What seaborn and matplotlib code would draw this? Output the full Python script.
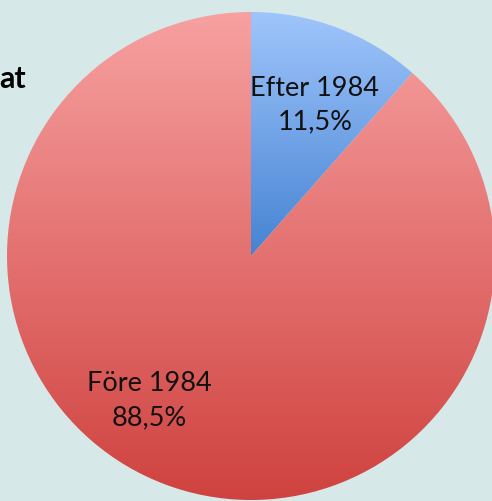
import numpy as np
import matplotlib
matplotlib.use("Agg")
import matplotlib.pyplot as plt
import seaborn as sns

# data
categories = ["Efter 1984", "Före 1984"]
shares = [11.5, 88.5]
share_labels = ["11,5%", "88,5%"]

# gradient colours (top, bottom) per slice
grad_colors = [("#9fc5fb", "#4683d3"), ("#f7a1a1", "#cf423f")]
bg = "#d7e8e8"

sns.set_theme(style="white")
plt.rcParams["font.family"] = ["Lato", "DejaVu Sans"]

fig = plt.figure(figsize=(4.92, 5.02), dpi=100)
fig.patch.set_facecolor(bg)
ax = fig.add_axes([0, 0, 1, 1])
ax.set_facecolor(bg)

cx, cy, r = 251, 245, 244
wedges, _ = ax.pie(shares, startangle=90, counterclock=False,
                   radius=r, center=(cx, cy), frame=True,
                   colors=[c[1] for c in grad_colors],
                   wedgeprops=dict(linewidth=0))
ax.set_xlim(0, 492)
ax.set_ylim(0, 502)
ax.set_aspect("equal")
ax.axis("off")

for w, (top, bot) in zip(wedges, grad_colors):
    ext = w.get_path().get_extents().transformed(w.get_patch_transform())
    c0 = np.array(matplotlib.colors.to_rgb(top))
    c1 = np.array(matplotlib.colors.to_rgb(bot))
    t = np.linspace(0, 1, 256)[:, None]
    img = (c0 * (1 - t) + c1 * t)[:, None, :]
    im = ax.imshow(img, extent=[ext.x0, ext.x1, ext.y0, ext.y1],
                   origin="upper", aspect="auto", interpolation="bilinear",
                   zorder=2)
    im.set_clip_path(w)
    w.set_facecolor("none")

ax.set_xlim(0, 492)
ax.set_ylim(0, 502)

# slice labels
label_pos = [(315, 397), (149, 101)]
for (x, y), cat, pct in zip(label_pos, categories, share_labels):
    ax.text(x, y, f"{cat}\n{pct}", ha="center", va="center",
            fontsize=19.5, color="#111111", linespacing=1.45, zorder=3)

# cut-off title text at top left
ax.text(26, 423, "at", ha="right", va="center", fontsize=22,
        fontweight="bold", color="black", zorder=3)

fig.savefig("out.png", dpi=100, facecolor=bg)
